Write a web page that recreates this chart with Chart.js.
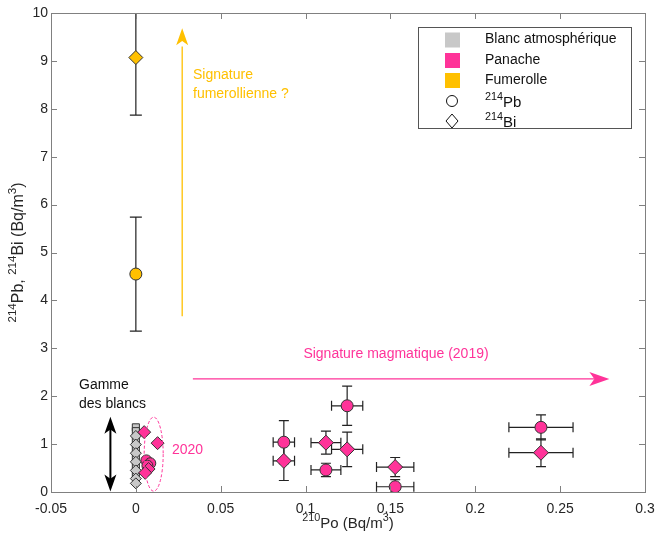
<!DOCTYPE html>
<html><head><meta charset="utf-8">
<script src="https://cdn.jsdelivr.net/npm/chart.js@4/dist/chart.umd.min.js"></script>
<style>html,body{margin:0;padding:0;background:#fff}#wrap{width:657px;height:537px;position:relative}</style>
</head><body><div id="wrap"><canvas id="c"></canvas></div>
<script>
// ---- Axis ticks ----
const xTicks = [-0.05, 0, 0.05, 0.1, 0.15, 0.2, 0.25, 0.3];
const yTicks = [0, 1, 2, 3, 4, 5, 6, 7, 8, 9, 10];

// ---- Blanc atmosphérique ----
const blankPbX = [0, 0, 0, 0, 0, 0, 0];
const blankPb  = [1.35, 1.27, 1.08, 0.90, 0.72, 0.54, 0.36];
const blankBiX = [0, 0, 0, 0, 0, 0, 0];
const blankBi  = [1.17, 0.99, 0.81, 0.63, 0.45, 0.28, 0.18];

// ---- Panache 2019 ----
const p19X     = [0.0872, 0.112, 0.1245, 0.1528, 0.2387];
const p19XErr  = [0.0063, 0.0088, 0.0092, 0.011, 0.0189];
const p19Pb    = [1.04, 0.46, 1.80, 0.11, 1.35];
const p19PbErr = [0.45, 0.14, 0.41, 0.15, 0.26];
const p19Bi    = [0.65, 1.03, 0.89, 0.52, 0.82];
const p19BiErr = [0.41, 0.24, 0.36, 0.20, 0.29];

// ---- Panache 2020 ----
const p20PbX = [0.0062, 0.0085, 0.0068];
const p20Pb  = [0.66, 0.60, 0.55];
const p20BiX = [0.0049, 0.0128, 0.0075, 0.0055];
const p20Bi  = [1.25, 1.02, 0.48, 0.40];

// ---- Fumerolle ----
const fumX     = [0];
const fumPb    = [4.55];
const fumPbErr = [1.19];
const fumBi    = [9.07];
const fumBiErr = [1.20];

// ---- Colours ----
const PINK = '#FF3399', GOLD = '#FFC000', GREY = '#C8C8C8', EDGE = '#333333';
const FONT = '"Liberation Sans", Arial, sans-serif';

const pts = (xs, ys) => xs.map((x, i) => ({x: x, y: ys[i]}));

const errorSets = [
  {xs: p19X, ys: p19Pb, xe: p19XErr, ye: p19PbErr},
  {xs: p19X, ys: p19Bi, xe: p19XErr, ye: p19BiErr},
  {xs: fumX, ys: fumPb, xe: null, ye: fumPbErr, cap: 6},
  {xs: fumX, ys: fumBi, xe: null, ye: fumBiErr, cap: 6}
];

function richWidth(ctx, parts, size) {
  let w = 0;
  for (const p of parts) { ctx.font = (p.sup ? size * 0.72 : size) + 'px ' + FONT; w += ctx.measureText(p.t).width; }
  return w;
}
function drawRich(ctx, parts, x, y, size, align) {
  const w = richWidth(ctx, parts, size);
  let cx = align === 'center' ? x - w / 2 : x;
  ctx.textBaseline = 'middle'; ctx.textAlign = 'left';
  for (const p of parts) {
    ctx.font = (p.sup ? size * 0.72 : size) + 'px ' + FONT;
    ctx.fillText(p.t, cx, p.sup ? y - size * 0.38 : y);
    cx += ctx.measureText(p.t).width;
  }
}
function arrowHead(ctx, tx, ty, dx, dy, len, half) {
  const n = Math.hypot(dx, dy); dx /= n; dy /= n;
  ctx.beginPath();
  ctx.moveTo(tx, ty);
  ctx.lineTo(tx - dx * len - dy * half, ty - dy * len + dx * half);
  ctx.lineTo(tx - dx * len * 0.75, ty - dy * len * 0.75);
  ctx.lineTo(tx - dx * len + dy * half, ty - dy * len - dx * half);
  ctx.closePath(); ctx.fill();
}

const errPlugin = {
  id: 'err',
  beforeDatasetsDraw(chart) {
    const {ctx, chartArea: a, scales: {x, y}} = chart;
    ctx.save();
    ctx.beginPath(); ctx.rect(a.left, a.top, a.right - a.left, a.bottom - a.top); ctx.clip();
    ctx.strokeStyle = '#222'; ctx.lineWidth = 1.2;
    for (const s of errorSets) {
      const cap = s.cap || 5;
      s.xs.forEach((xv, i) => {
        const px = x.getPixelForValue(xv), py = y.getPixelForValue(s.ys[i]);
        if (s.ye) {
          const t = y.getPixelForValue(s.ys[i] + s.ye[i]), b = y.getPixelForValue(s.ys[i] - s.ye[i]);
          ctx.beginPath();
          ctx.moveTo(px, t); ctx.lineTo(px, b);
          ctx.moveTo(px - cap, t); ctx.lineTo(px + cap, t);
          ctx.moveTo(px - cap, b); ctx.lineTo(px + cap, b);
          ctx.stroke();
        }
        if (s.xe) {
          const l = x.getPixelForValue(xv - s.xe[i]), r = x.getPixelForValue(xv + s.xe[i]);
          ctx.beginPath();
          ctx.moveTo(l, py); ctx.lineTo(r, py);
          ctx.moveTo(l, py - 5); ctx.lineTo(l, py + 5);
          ctx.moveTo(r, py - 5); ctx.lineTo(r, py + 5);
          ctx.stroke();
        }
      });
    }
    ctx.restore();
  },
  afterDraw(chart) {
    const {ctx, chartArea: a, scales: {x, y}} = chart;
    ctx.save();
    // frame
    ctx.strokeStyle = '#808080'; ctx.lineWidth = 1;
    ctx.strokeRect(Math.round(a.left) + 0.5, Math.round(a.top) + 0.5, Math.round(a.right - a.left), Math.round(a.bottom - a.top));
    ctx.beginPath();
    for (const v of xTicks) {
      const px = Math.round(x.getPixelForValue(v)) + 0.5;
      ctx.moveTo(px, a.bottom); ctx.lineTo(px, a.bottom - 6);
      ctx.moveTo(px, a.top); ctx.lineTo(px, a.top + 6);
    }
    for (const v of yTicks) {
      const py = Math.round(y.getPixelForValue(v)) + 0.5;
      ctx.moveTo(a.left, py); ctx.lineTo(a.left + 6, py);
      ctx.moveTo(a.right, py); ctx.lineTo(a.right - 6, py);
    }
    ctx.stroke();

    // axis titles
    ctx.fillStyle = '#262626';
    drawRich(ctx, [{t: '210', sup: true}, {t: 'Po (Bq/m'}, {t: '3', sup: true}, {t: ')'}], (a.left + a.right) / 2, 524, 15, 'center');
    ctx.save();
    ctx.translate(19, (a.top + a.bottom) / 2); ctx.rotate(-Math.PI / 2);
    drawRich(ctx, [{t: '214', sup: true}, {t: 'Pb, '}, {t: '214', sup: true}, {t: 'Bi (Bq/m'}, {t: '3', sup: true}, {t: ')'}], 0, 0, 16, 'center');
    ctx.restore();

    // yellow arrow
    const yx = x.getPixelForValue(0.0273);
    ctx.strokeStyle = GOLD; ctx.fillStyle = GOLD; ctx.lineWidth = 1.3;
    ctx.beginPath(); ctx.moveTo(yx, y.getPixelForValue(3.67)); ctx.lineTo(yx, y.getPixelForValue(9.3)); ctx.stroke();
    arrowHead(ctx, yx, y.getPixelForValue(9.68), 0, -1, 17, 6);
    ctx.font = '14px ' + FONT; ctx.textAlign = 'left'; ctx.textBaseline = 'middle';
    ctx.fillText('Signature', 193, 75);
    ctx.fillText('fumerollienne ?', 193, 94);

    // pink arrow
    const py = y.getPixelForValue(2.36);
    ctx.strokeStyle = PINK; ctx.fillStyle = PINK; ctx.lineWidth = 1.3;
    ctx.beginPath(); ctx.moveTo(x.getPixelForValue(0.0336), py); ctx.lineTo(x.getPixelForValue(0.27), py); ctx.stroke();
    arrowHead(ctx, x.getPixelForValue(0.279), py, 1, 0, 20, 7);
    ctx.font = '14px ' + FONT; ctx.textAlign = 'center';
    ctx.fillText('Signature magmatique (2019)', 396, 354);

    // 2020 ellipse + label
    ctx.setLineDash([3, 2]); ctx.lineWidth = 1;
    ctx.beginPath();
    ctx.ellipse(x.getPixelForValue(0.0105), y.getPixelForValue(0.79), 9.5, 37, 0, 0, Math.PI * 2);
    ctx.stroke(); ctx.setLineDash([]);
    ctx.textAlign = 'left';
    ctx.fillText('2020', 172, 450);

    // black double arrow
    const bx = x.getPixelForValue(-0.015);
    ctx.strokeStyle = '#000'; ctx.fillStyle = '#000'; ctx.lineWidth = 2;
    const bt = y.getPixelForValue(1.57), bb = y.getPixelForValue(0.01);
    ctx.beginPath(); ctx.moveTo(bx, bt + 12); ctx.lineTo(bx, bb - 12); ctx.stroke();
    arrowHead(ctx, bx, bt, 0, -1, 17, 6);
    arrowHead(ctx, bx, bb, 0, 1, 17, 6);
    ctx.font = '14px ' + FONT; ctx.textAlign = 'left';
    ctx.fillStyle = '#111';
    ctx.fillText('Gamme', 79, 385);
    ctx.fillText('des blancs', 79, 404);

    // legend
    ctx.fillStyle = '#fff'; ctx.fillRect(418, 27, 214, 101);
    ctx.strokeStyle = '#555'; ctx.lineWidth = 1;
    ctx.strokeRect(418.5, 27.5, 213, 101);
    const rows = [39.5, 60, 80, 101, 121];
    const mx = 452;
    [[GREY, rows[0]], [PINK, rows[1]], [GOLD, rows[2]]].forEach(([c, ry]) => {
      ctx.fillStyle = c; ctx.fillRect(mx - 7, ry - 7, 15, 15);
    });
    ctx.strokeStyle = '#111'; ctx.lineWidth = 1;
    ctx.beginPath(); ctx.arc(mx, rows[3], 5.5, 0, Math.PI * 2); ctx.stroke();
    ctx.beginPath(); ctx.moveTo(mx, rows[4] - 7); ctx.lineTo(mx + 6, rows[4]); ctx.lineTo(mx, rows[4] + 7); ctx.lineTo(mx - 6, rows[4]); ctx.closePath(); ctx.stroke();
    ctx.fillStyle = '#111'; ctx.font = '14px ' + FONT; ctx.textAlign = 'left'; ctx.textBaseline = 'middle';
    ctx.fillText('Blanc atmosphérique', 485, rows[0]);
    ctx.fillText('Panache', 485, rows[1]);
    ctx.fillText('Fumerolle', 485, rows[2]);
    drawRich(ctx, [{t: '214', sup: true}, {t: 'Pb'}], 485, rows[3] + 2, 15, 'left');
    drawRich(ctx, [{t: '214', sup: true}, {t: 'Bi'}], 485, rows[4] + 2, 15, 'left');
    ctx.restore();
  }
};

const ds = (label, data, style, r, bg) => ({
  label, data, pointStyle: style, pointRadius: r, pointHoverRadius: r,
  backgroundColor: bg, borderColor: EDGE, borderWidth: 1, showLine: false
});

new Chart(document.getElementById('c'), {
  type: 'scatter',
  data: {
    datasets: [
      ds('Fumerolle Bi', pts(fumX, fumBi), 'rectRot', 7, GOLD),
      ds('Fumerolle Pb', pts(fumX, fumPb), 'circle', 6, GOLD),
      ds('Panache 2019 Bi', pts(p19X, p19Bi), 'rectRot', 7.5, PINK),
      ds('Panache 2019 Pb', pts(p19X, p19Pb), 'circle', 6, PINK),
      ds('Panache 2020 Bi', pts(p20BiX, p20Bi), 'rectRot', 6.5, PINK),
      ds('Panache 2020 Pb', pts(p20PbX, p20Pb), 'circle', 5.5, PINK),
      ds('Blanc Bi', pts(blankBiX, blankBi), 'rectRot', 5.5, GREY),
      ds('Blanc Pb', pts(blankPbX, blankPb), 'rect', 5, GREY)
    ]
  },
  options: {
    responsive: true, maintainAspectRatio: false, animation: false,
    layout: {padding: {top: 13, right: 12, left: 0, bottom: 0}},
    plugins: {legend: {display: false}, tooltip: {enabled: false}},
    scales: {
      x: {
        type: 'linear', min: -0.05, max: 0.3,
        afterFit: s => { s.height = 45; s.paddingLeft = 0; s.paddingRight = 0; },
        afterBuildTicks: s => { s.ticks = xTicks.map(v => ({value: v})); },
        grid: {display: false, drawTicks: false}, border: {display: false},
        ticks: {autoSkip: false, maxRotation: 0, padding: 9, color: '#262626', font: {family: FONT, size: 14},
          callback: v => String(Number(v.toFixed(2)))}
      },
      y: {
        type: 'linear', min: 0, max: 10,
        afterFit: s => { s.width = 51; s.paddingTop = 0; s.paddingBottom = 0; },
        afterBuildTicks: s => { s.ticks = yTicks.map(v => ({value: v})); },
        grid: {display: false, drawTicks: false}, border: {display: false},
        ticks: {autoSkip: false, padding: 3, color: '#262626', font: {family: FONT, size: 14},
          callback: v => String(v)}
      }
    }
  },
  plugins: [errPlugin]
});
</script></body></html>
